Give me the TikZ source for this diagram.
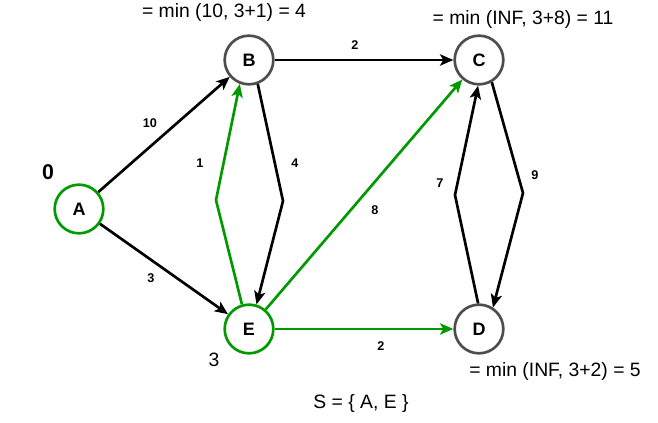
\documentclass[tikz,border=0pt]{standalone}
\usepackage{fontspec}
\setmainfont{Liberation Sans}
\usetikzlibrary{arrows.meta}
\definecolor{grn}{HTML}{009900}
\definecolor{gry}{HTML}{4D4D4D}
\begin{document}
\begin{tikzpicture}[x=0.75pt,y=-0.75pt,
  vtx/.style={circle,draw=gry,line width=2pt,minimum size=36.5pt,inner sep=0pt,font=\fontsize{13.5}{15}\selectfont\bfseries},
  done/.style={draw=grn},
  edge/.style={line width=2pt,line join=round,-{Stealth[length=10pt,width=8.5pt,inset=2.5pt]}},
  gedge/.style={edge,draw=grn},
  elab/.style={font=\fontsize{9.5}{11}\selectfont\bfseries},
  big/.style={font=\fontsize{14.5}{17}\selectfont}]
\useasboundingbox (0,0) rectangle (658,423);
\node[vtx,done] (A) at (79,209) {A};
\node[vtx] (B) at (249,60) {B};
\node[vtx] (C) at (479,60) {C};
\node[vtx] (D) at (479,329) {D};
\node[vtx,done] (E) at (249,329) {E};
\coordinate (wEB) at (216,200);
\coordinate (wBE) at (283,201);
\coordinate (wDC) at (455,195);
\coordinate (wCD) at (523,193);
\draw[edge] (A) -- (B);
\draw[edge] (A) -- (E);
\draw[edge] (B) -- (C);
\draw[edge] (B.-70) -- (wBE) -- (E.73);
\draw[gedge] (E.106) -- (wEB) -- (B.-111);
\draw[gedge] (E) -- (C);
\draw[gedge] (E) -- (D);
\draw[edge] (D.92) -- (wDC) -- (C.-92);
\draw[edge] (C.-60) -- (wCD) -- (D.57);
\node[elab] (l10) at (150,123) {10};
\node[elab] (l3) at (151,278) {3};
\node[elab] (l2a) at (355,45) {2};
\node[elab] (l1) at (200,163) {1};
\node[elab] (l4) at (295,163) {4};
\node[elab] (l8) at (375,210) {8};
\node[elab] (l7) at (440,183) {7};
\node[elab] (l9) at (535,175) {9};
\node[elab] (l2b) at (381,346) {2};
\node[font=\fontsize{16}{18}\selectfont\bfseries] (d0) at (48,172) {0};
\node[big] (d3) at (214,360) {3};
\node[big] (tB) at (224,13) {= min (10, 3+1) = 4};
\node[big] (tC) at (523,20) {= min (INF, 3+8) = 11};
\node[big] (tD) at (555,372) {= min (INF, 3+2) = 5};
\node[big] (S) at (361,404) {S = \{ A, E \}};
\end{tikzpicture}
\end{document}
